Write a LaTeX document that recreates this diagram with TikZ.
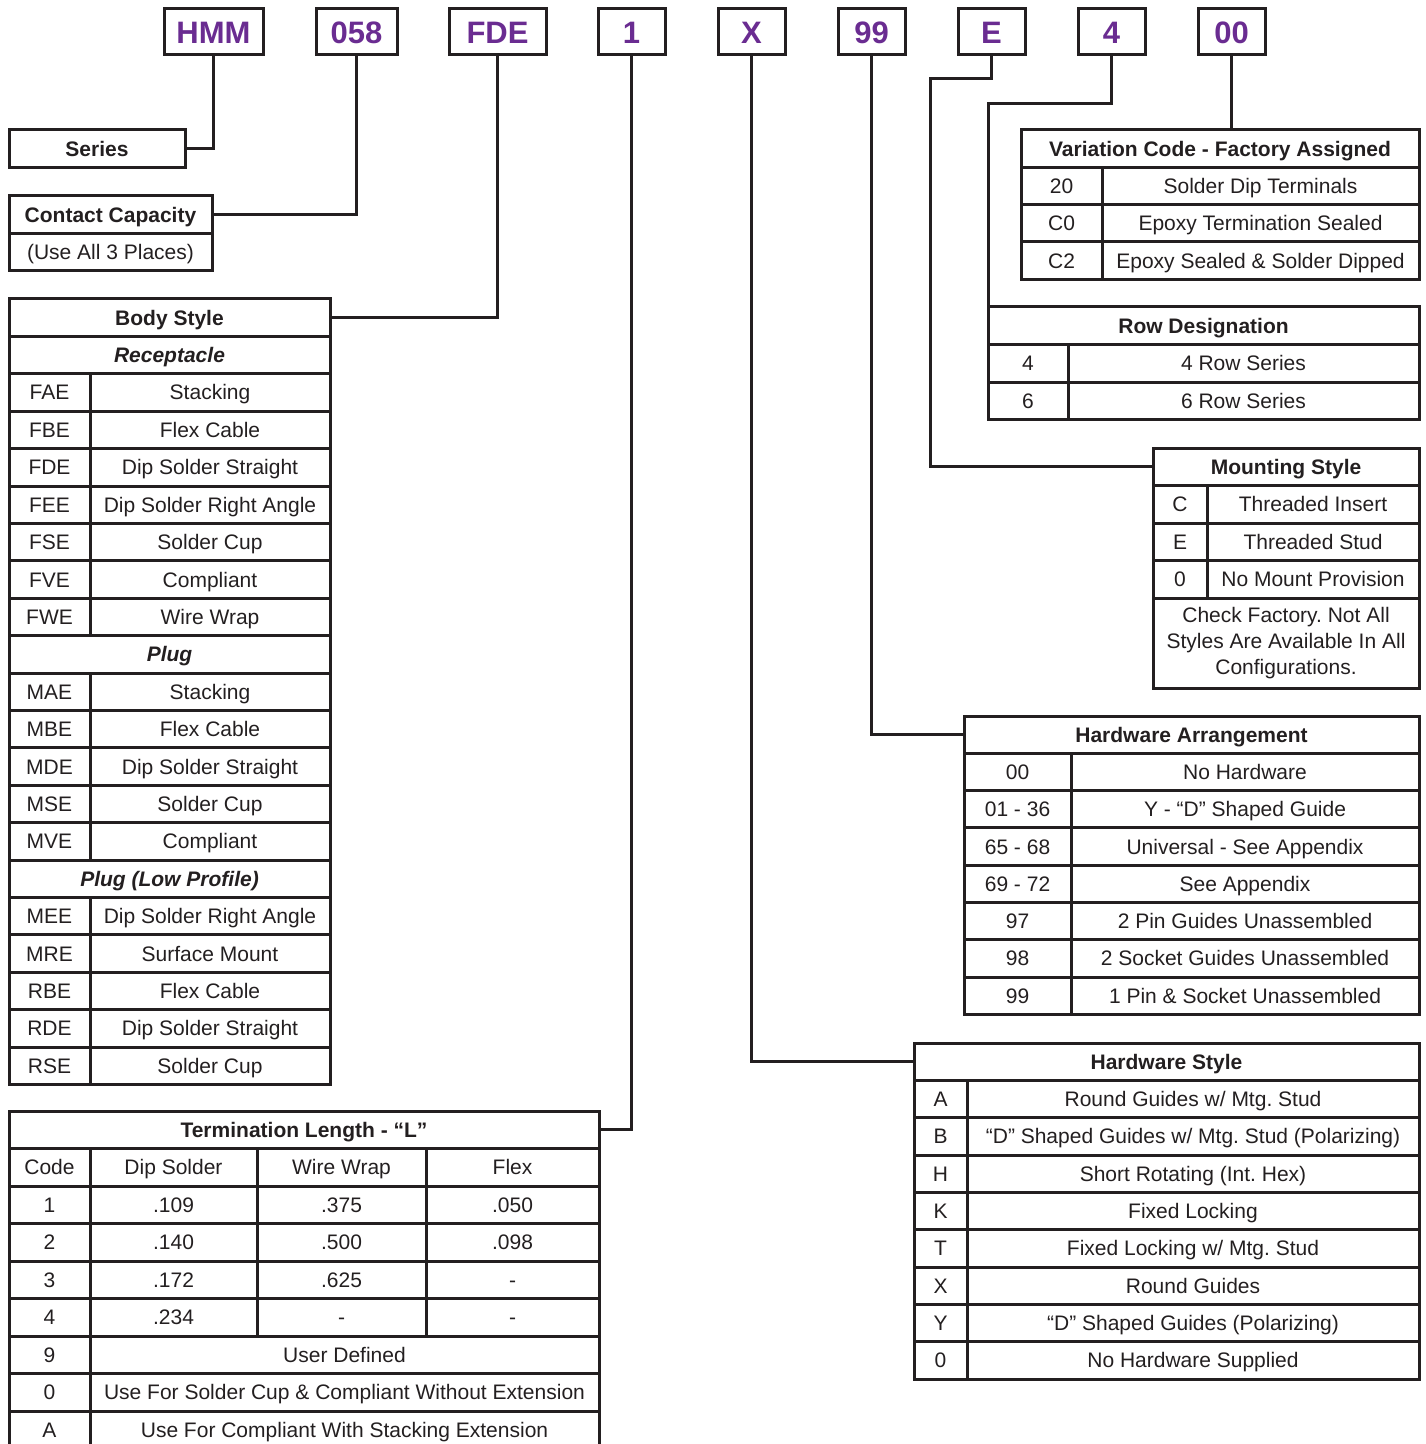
\documentclass[tikz,border=0pt]{standalone}
\usepackage{fontspec}
\setmainfont{Liberation Sans}
\usepackage{tikz}
\usetikzlibrary{positioning}
\frenchspacing

\definecolor{ink}{HTML}{231F20}
\definecolor{plum}{HTML}{6A2C91}

\begin{document}
\begin{tikzpicture}[x=0.5pt, y=-0.5pt]

\tikzset{cell/.style = {draw=ink, line width=1.5pt, anchor=north west, inner sep=0pt, outer sep=0pt, minimum height=18.7pt, text=ink, text height=7.5pt, text depth=0pt, font=\fontsize{10.5}{13}\selectfont}}
\tikzset{head/.style = {cell, font=\fontsize{10.5}{13}\selectfont\bfseries}}
\tikzset{sub/.style = {cell, font=\fontsize{10.5}{13}\selectfont\bfseries\itshape}}
\tikzset{part/.style = {draw=ink, line width=1.5pt, inner sep=0pt, outer sep=0pt, minimum height=23pt, text=plum, text height=11.1pt, text depth=0pt, font=\fontsize{15.5}{18}\selectfont\bfseries}}
\tikzset{link/.style = {draw=ink, line width=1.5pt}}

\useasboundingbox (0,0) rectangle (1425,1444);

% part number boxes
\node[part, minimum width=49.5pt] (pHMM) at (213.5,32) {HMM};
\node[part, minimum width=40.5pt] (p058) at (356.5,32) {058};
\node[part, minimum width=48.5pt] (pFDE) at (497.5,32) {FDE};
\node[part, minimum width=33.5pt] (p1) at (631.5,32) {1};
\node[part, minimum width=33.5pt] (pX) at (751.5,32) {X};
\node[part, minimum width=33.5pt] (p99) at (871.5,32) {99};
\node[part, minimum width=33.5pt] (pE) at (991.5,32) {E};
\node[part, minimum width=33.5pt] (p4) at (1111.5,32) {4};
\node[part, minimum width=33.5pt] (p00) at (1231.5,32) {00};

% series and contact capacity
\node[head, minimum width=88pt, minimum height=19pt] (series) at (9,130) {Series};
\node[head, minimum width=101.5pt, minimum height=18.75pt] (contact) at (9,196) {Contact Capacity};
\node[cell, minimum width=101.5pt, minimum height=18.75pt] (places) at (9,233.5) {(Use All 3 Places)};

% body style
\node[head, minimum width=160.5pt] (body) at (9,299) {Body Style};
\node[sub, minimum width=160.5pt] (recep) at (9,299+1*37.4) {Receptacle};
\node[sub, minimum width=160.5pt] (plug) at (9,299+9*37.4) {Plug};
\node[sub, minimum width=160.5pt] (plugl) at (9,299+15*37.4) {Plug (Low Profile)};
\foreach \r/\c/\d in {2/FAE/Stacking, 3/FBE/Flex Cable, 4/FDE/Dip Solder Straight, 5/FEE/Dip Solder Right Angle, 6/FSE/Solder Cup, 7/FVE/Compliant, 8/FWE/Wire Wrap, 10/MAE/Stacking, 11/MBE/Flex Cable, 12/MDE/Dip Solder Straight, 13/MSE/Solder Cup, 14/MVE/Compliant, 16/MEE/Dip Solder Right Angle, 17/MRE/Surface Mount, 18/RBE/Flex Cable, 19/RDE/Dip Solder Straight, 20/RSE/Solder Cup}{
  \node[cell, minimum width=40.5pt] (b\c) at (9,299+\r*37.4) {\c};
  \node[cell, minimum width=120pt] (bd\c) at (90,299+\r*37.4) {\d};
}

% termination length
\tikzset{tcell/.style = {cell, minimum height=18.75pt}}
\node[head, minimum width=295pt, minimum height=18.75pt] (term) at (9,1111) {Termination Length - “L”};
\foreach \r/\a/\b/\c/\d in {1/Code/Dip Solder/Wire Wrap/Flex, 2/1/.109/.375/.050, 3/2/.140/.500/.098, 4/3/.172/.625/-, 5/4/.234/-/-}{
  \node[tcell, minimum width=40.5pt] (ta\r) at (9,1111+\r*37.5) {\a};
  \node[tcell, minimum width=83.5pt] (tb\r) at (90,1111+\r*37.5) {\b};
  \node[tcell, minimum width=84.5pt] (tc\r) at (257,1111+\r*37.5) {\c};
  \node[tcell, minimum width=86.5pt] (td\r) at (426,1111+\r*37.5) {\d};
}
\foreach \r/\a/\b in {6/9/User Defined, 7/0/Use For Solder Cup \& Compliant Without Extension, 8/A/Use For Compliant With Stacking Extension}{
  \node[tcell, minimum width=40.5pt] (ta\r) at (9,1111+\r*37.5) {\a};
  \node[tcell, minimum width=254.5pt] (tb\r) at (90,1111+\r*37.5) {\b};
}

% variation code
\node[head, minimum width=199pt, minimum height=18.65pt] (var) at (1021,130) {Variation Code - Factory Assigned};
\foreach \r/\a/\b in {1/20/Solder Dip Terminals, 2/C0/Epoxy Termination Sealed, 3/C2/Epoxy Sealed \& Solder Dipped}{
  \node[cell, minimum width=40.5pt, minimum height=18.65pt] (va\r) at (1021,130+\r*37.3) {\a};
  \node[cell, minimum width=158.5pt, minimum height=18.65pt] (vb\r) at (1102,130+\r*37.3) {\b};
}

% row designation
\node[head, minimum width=215.5pt, minimum height=18.75pt] (rowdes) at (988,307) {Row Designation};
\foreach \r/\a/\b in {1/4/4 Row Series, 2/6/6 Row Series}{
  \node[cell, minimum width=40pt, minimum height=18.75pt] (ra\r) at (988,307+\r*37.5) {\a};
  \node[cell, minimum width=175.5pt, minimum height=18.75pt] (rb\r) at (1068,307+\r*37.5) {\b};
}

% mounting style
\node[head, minimum width=133pt, minimum height=18.75pt] (mount) at (1153,448) {Mounting Style};
\foreach \r/\a/\b in {1/C/Threaded Insert, 2/E/Threaded Stud, 3/0/No Mount Provision}{
  \node[cell, minimum width=27pt, minimum height=18.75pt] (ma\r) at (1153,448+\r*37.5) {\a};
  \node[cell, minimum width=106pt, minimum height=18.75pt] (mb\r) at (1207,448+\r*37.5) {\b};
}
\node[cell, minimum width=133pt, minimum height=45pt, text height=, text depth=, align=center] (note) at (1153,598) {Check Factory. Not All\\Styles Are Available In All\\Configurations.};

% hardware arrangement
\node[head, minimum width=227.5pt, minimum height=18.65pt] (hwarr) at (964,716) {Hardware Arrangement};
\foreach \r/\a/\b in {1/00/No Hardware, 2/01 - 36/Y - “D” Shaped Guide, 3/65 - 68/Universal - See Appendix, 4/69 - 72/See Appendix, 5/97/2 Pin Guides Unassembled, 6/98/2 Socket Guides Unassembled, 7/99/1 Pin \& Socket Unassembled}{
  \node[cell, minimum width=53.5pt, minimum height=18.65pt] (ha\r) at (964,716+\r*37.3) {\a};
  \node[cell, minimum width=174pt, minimum height=18.65pt] (hb\r) at (1071,716+\r*37.3) {\b};
}

% hardware style
\node[head, minimum width=252.5pt, minimum height=18.65pt] (hwstyle) at (914,1043) {Hardware Style};
\foreach \r/\a/\b in {1/A/{Round Guides w/ Mtg. Stud}, 2/B/{“D” Shaped Guides w/ Mtg. Stud (Polarizing)}, 3/H/{Short Rotating (Int. Hex)}, 4/K/{Fixed Locking}, 5/T/{Fixed Locking w/ Mtg. Stud}, 6/X/{Round Guides}, 7/Y/{“D” Shaped Guides (Polarizing)}, 8/0/{No Hardware Supplied}}{
  \node[cell, minimum width=26.5pt, minimum height=18.65pt] (sa\r) at (914,1043+\r*37.35) {\a};
  \node[cell, minimum width=226pt, minimum height=18.65pt] (sb\r) at (967,1043+\r*37.35) {\b};
}

% links
\coordinate (ebend) at (930,79);
\coordinate (fourbend) at (988,104);
\draw[link] (pHMM.south) |- (series.east);
\draw[link] (p058.south) |- (contact.east);
\draw[link] (pFDE.south) |- (body.east);
\draw[link] (p1.south) |- (term.east);
\draw[link] (pX.south) |- (hwstyle.west);
\draw[link] (p99.south) |- (hwarr.west);
\draw[link] (pE.south) |- (ebend) |- (mount.west);
\draw[link] (p4.south) |- (fourbend) -- (rowdes.north west);
\draw[link] (p00.south) -- (p00.south |- var.north);
\end{tikzpicture}
\end{document}
